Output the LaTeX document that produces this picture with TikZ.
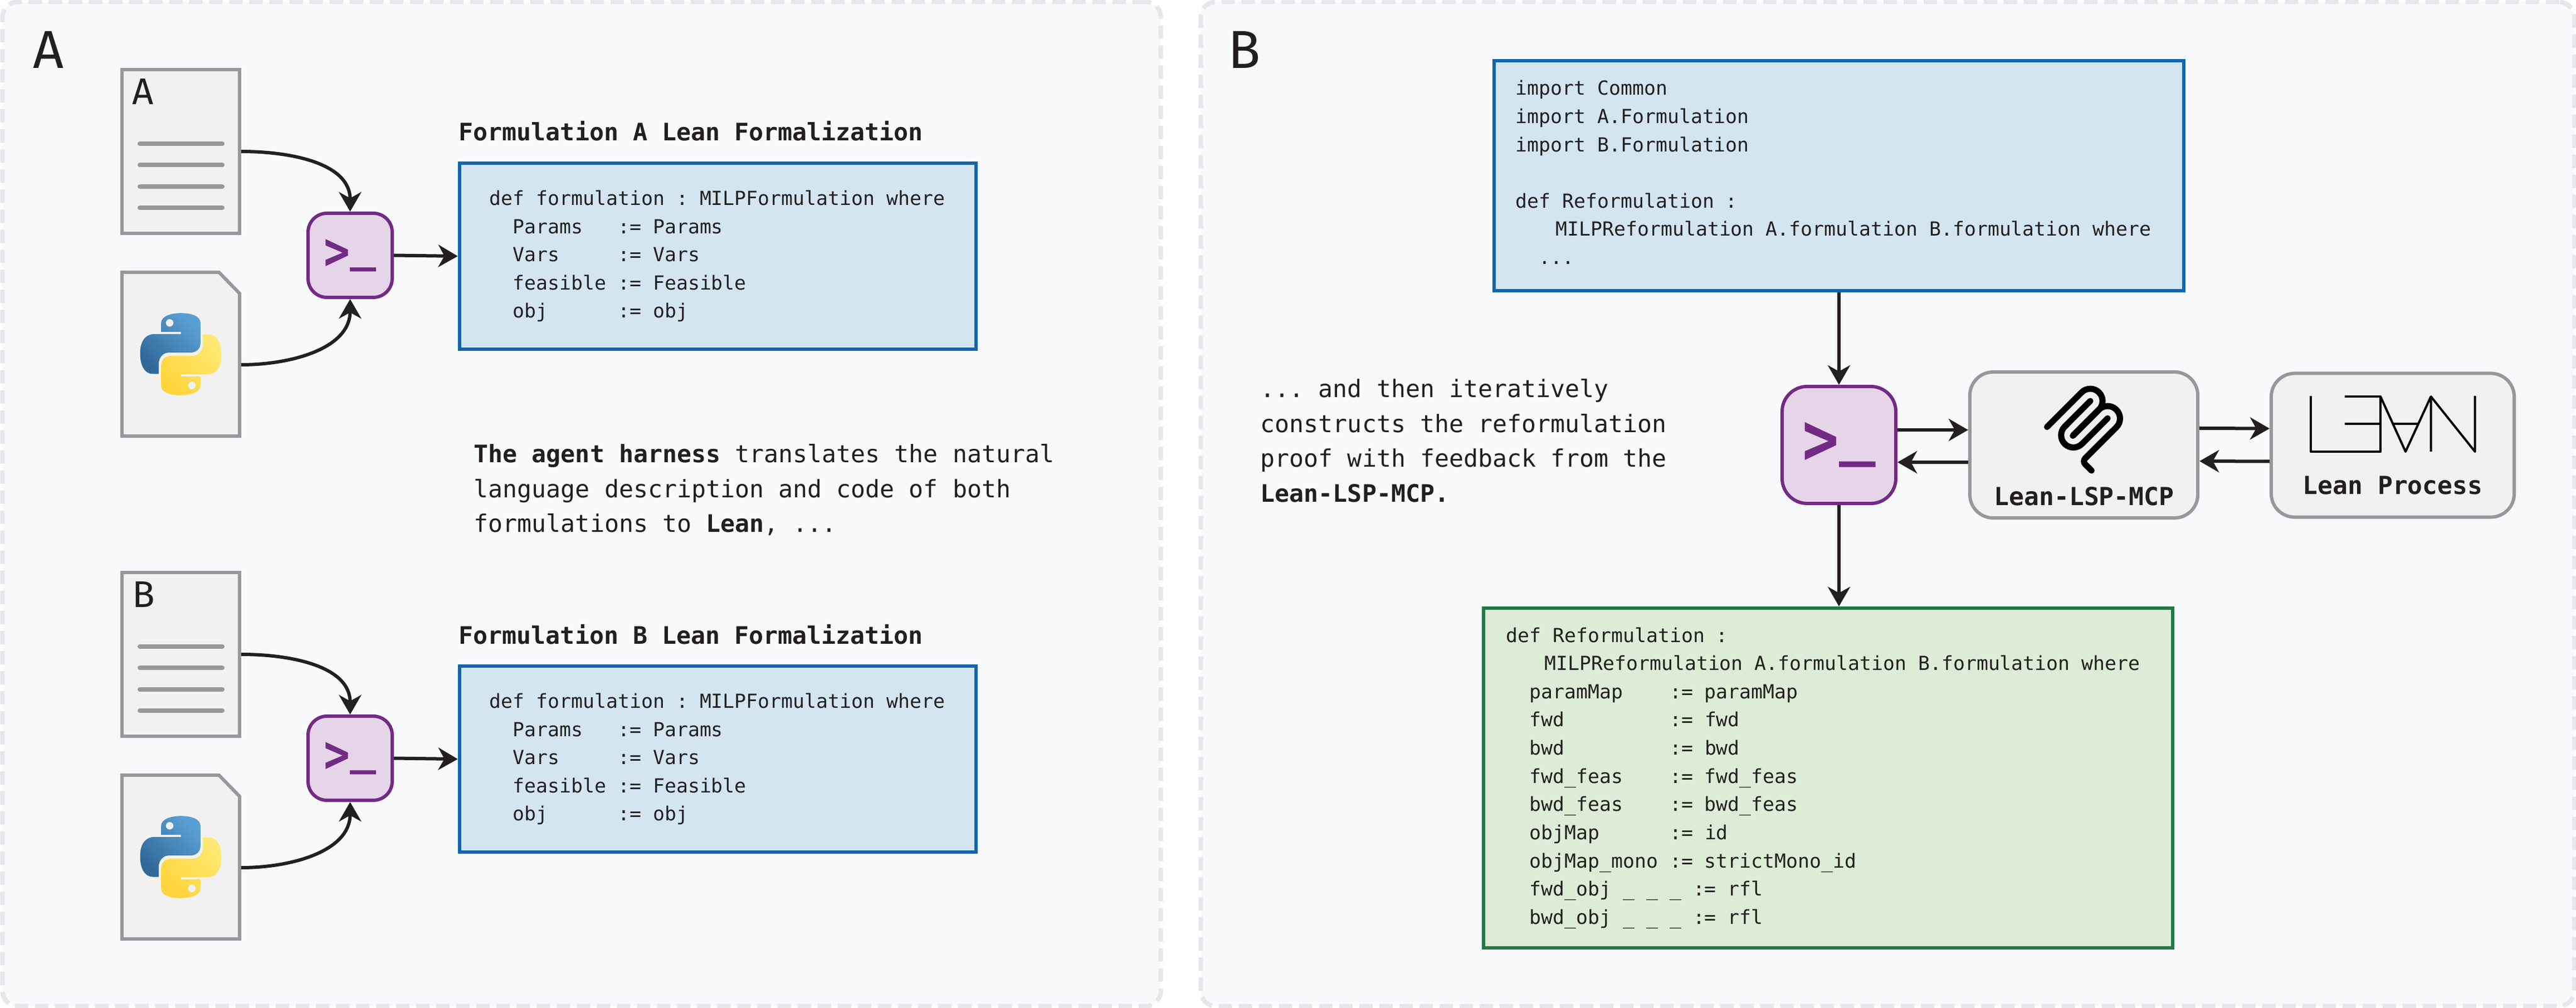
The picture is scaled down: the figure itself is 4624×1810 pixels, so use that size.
\documentclass[tikz,border=0pt]{standalone}
\usepackage{fontspec}
\setmonofont{DejaVu Sans Mono}
\setsansfont{Fira Sans}
\usepackage{xcolor}
\usepackage{tikz}
\usetikzlibrary{arrows.meta, calc}

\definecolor{ink}{HTML}{231F20}
\definecolor{panelbg}{HTML}{F8F9FB}
\definecolor{paneledge}{HTML}{E5E7EA}
\definecolor{docbg}{HTML}{F1F1F1}
\definecolor{docedge}{HTML}{97989B}
\definecolor{termbg}{HTML}{E6D5E8}
\definecolor{termedge}{HTML}{732A85}
\definecolor{codebg}{HTML}{D2E5F1}
\definecolor{codeedge}{HTML}{1166AE}
\definecolor{proofbg}{HTML}{DCECD6}
\definecolor{proofedge}{HTML}{1E7B43}
\definecolor{pyblueA}{HTML}{5A9FD4}
\definecolor{pyblueB}{HTML}{306998}
\definecolor{pyyellowA}{HTML}{FFE873}
\definecolor{pyyellowB}{HTML}{FFD43B}

\newcommand{\termprompt}{\raisebox{0.02em}{\scalebox{1}[1.2]{>}}\raisebox{0.2em}{\_}}

\tikzset{
    pylogo/.pic={
        \shade[left color=pyblueA, right color=pyblueB, shading angle=-45]
            (-35.3,-40.2) -- (0,-40.2) -- (0,-36.2) -- (-47,-36.2)
            .. controls (-63,-36.2) and (-73,-24) .. (-73,-1.2)
            .. controls (-73,20) and (-65,35.5) .. (-50,35.5)
            -- (-39.7,35.5) -- (-39.7,18.8)
            .. controls (-39.7,6) and (-32,-2.8) .. (-21.3,-2.8)
            -- (17,-2.8)
            .. controls (28,-2.8) and (35.3,-10) .. (35.3,-19.5)
            -- (35.3,-56.2)
            .. controls (35.3,-68) and (20,-73.8) .. (0.3,-73.8)
            .. controls (-18,-73.8) and (-35.3,-68) .. (-35.3,-56.2) -- cycle;
        \fill[docbg] (-20,-56.2) circle[radius=6.7];
        \begin{scope}[rotate=180]
        \shade[left color=pyyellowA, right color=pyyellowB, shading angle=-45]
            (-35.3,-40.2) -- (0,-40.2) -- (0,-36.2) -- (-47,-36.2)
            .. controls (-63,-36.2) and (-73,-24) .. (-73,-1.2)
            .. controls (-73,20) and (-65,35.5) .. (-50,35.5)
            -- (-39.7,35.5) -- (-39.7,18.8)
            .. controls (-39.7,6) and (-32,-2.8) .. (-21.3,-2.8)
            -- (17,-2.8)
            .. controls (28,-2.8) and (35.3,-10) .. (35.3,-19.5)
            -- (35.3,-56.2)
            .. controls (35.3,-68) and (20,-73.8) .. (0.3,-73.8)
            .. controls (-18,-73.8) and (-35.3,-68) .. (-35.3,-56.2) -- cycle;
        \fill[docbg] (-20,-56.2) circle[radius=6.7];
        \end{scope}
    },
    mcplogo/.pic={
        \begin{scope}[scale=0.915, black, line width=0.11cm, line cap=round]
        \draw (18,84.85) -- (85.88,16.97)
            .. controls (95.25,7.6) and (110.45,7.6) .. (119.82,16.97)
            .. controls (129.2,26.34) and (129.2,41.54) .. (119.82,50.91)
            -- (68.56,102.18);
        \draw (69.27,101.47) -- (119.82,50.91)
            .. controls (129.2,41.54) and (144.39,41.54) .. (153.77,50.91)
            -- (154.12,51.27)
            .. controls (163.49,60.64) and (163.49,75.83) .. (154.12,85.21)
            -- (92.72,146.6)
            .. controls (89.6,149.72) and (89.6,154.79) .. (92.72,157.91)
            -- (105.33,170.52);
        \draw (102.85,33.94) -- (52.65,84.15)
            .. controls (43.28,93.52) and (43.28,108.71) .. (52.65,118.09)
            .. controls (62.02,127.46) and (77.22,127.46) .. (86.59,118.09)
            -- (136.79,67.88);
        \end{scope}
    },
    leanlogo/.pic={
        \draw[black, line width=0.04cm, line join=round]
            (0,0) -- (0,100) -- (125,100) -- (125,1) -- (61,1);
        \draw[black, line width=0.04cm] (61,50) -- (125,50);
        \draw[black, line width=0.04cm, line join=round]
            (125,1) -- (170,100) -- (215.5,1) -- (215.5,100);
        \draw[black, line width=0.04cm] (148,50) -- (192.6,50);
        \draw[black, line width=0.04cm, line join=round]
            (215.5,1) -- (294.6,100) -- (294.6,0);
    }
}

\begin{document}
\begin{tikzpicture}[
    x=0.01cm,
    y=-0.01cm,
    panel/.style={rectangle, draw=paneledge, fill=panelbg, line width=0.08cm, rounded corners=0.27cm, dash pattern=on 0.24cm off 0.12cm},
    panellabel/.style={anchor=base west, inner sep=0pt, text=ink, font=\sffamily\fontsize{27.3}{30}\selectfont},
    doc/.style={rectangle, draw=docedge, fill=docbg, line width=0.06cm, minimum width=2.11cm, minimum height=2.94cm},
    codedoc/.style={rectangle, minimum width=2.17cm, minimum height=3.00cm, outer sep=0pt},
    docline/.style={draw=docedge, line width=0.08cm, line cap=round},
    doclabel/.style={anchor=base west, inner sep=0pt, text=ink, font=\sffamily\fontsize{19}{22}\selectfont},
    terminal/.style={rectangle, draw=termedge, fill=termbg, text=termedge, line width=0.06cm, minimum width=1.51cm, minimum height=1.51cm, rounded corners=0.34cm, inner sep=0pt, font=\ttfamily\bfseries\fontsize{22.2}{26}\selectfont},
    bigterminal/.style={terminal, minimum width=2.04cm, minimum height=2.10cm, rounded corners=0.45cm, font=\ttfamily\bfseries\fontsize{31}{36}\selectfont},
    codebox/.style={rectangle, draw=codeedge, fill=codebg, text=ink, line width=0.06cm, align=left, inner ysep=0pt, font=\ttfamily\fontsize{9.9}{14.4}\selectfont, execute at begin node={\spaceskip=\fontdimen2\font\xspaceskip=\fontdimen2\font}},
    proofbox/.style={codebox, draw=proofedge, fill=proofbg},
    boxtitle/.style={anchor=base west, inner sep=0pt, text=ink, font=\ttfamily\bfseries\fontsize{12.3}{15}\selectfont},
    prose/.style={anchor=north west, inner sep=0pt, align=left, text=ink, font=\ttfamily\fontsize{12.3}{17.8}\selectfont},
    tool/.style={rectangle, draw=docedge, fill=docbg, line width=0.06cm, rounded corners=0.42cm},
    toollabel/.style={anchor=base, inner sep=0pt, text=ink, font=\ttfamily\bfseries\fontsize{12.7}{15}\selectfont},
    flow/.style={draw=ink, line width=0.06cm, -{Stealth[length=0.35cm, width=0.4cm, inset=0.11cm]}}
]
    \useasboundingbox (0,0) rectangle (4624,1810);

    % --- 1. Panels ---
    \node (panelA) [panel, minimum width=20.78cm, minimum height=18.02cm] at (1044,905) {};
    \node (panelB) [panel, minimum width=24.64cm, minimum height=18.02cm] at (3388,905) {};
    \node (labelA) [panellabel] at (59,123) {A};
    \node (labelB) [panellabel] at (2204,123) {B};

    % --- 2. Formulation A ---
    \node (docA) [doc] at (324.5,272) {};
    \node (docAlabel) [doclabel] at ($(docA.north west)+(21,66)$) {A};
    \draw[docline] ($(docA.north west)+(35,136)$) -- ($(docA.north east)+(-34,136)$);
    \draw[docline] ($(docA.north west)+(35,174.5)$) -- ($(docA.north east)+(-34,174.5)$);
    \draw[docline] ($(docA.north west)+(35,213)$) -- ($(docA.north east)+(-34,213)$);
    \draw[docline] ($(docA.north west)+(35,251)$) -- ($(docA.north east)+(-34,251)$);
    \node (pyA) [codedoc] at (324.5,636) {};
    \draw[draw=docedge, fill=docbg, line width=0.06cm, line join=miter]
        ($(pyA.north west)+(3,3)$) -- ($(pyA.north east)+(-40,3)$) -- ($(pyA.north east)+(-3,41)$)
        -- ($(pyA.south east)+(-3,-3)$) -- ($(pyA.south west)+(3,-3)$) -- cycle;
    \pic at (pyA.center) {pylogo};
    \node (termA) [terminal] at (628.5,458.5) {\termprompt};
    \node (titleA) [boxtitle] at (823,253) {Formulation A Lean Formalization};
    \node (leanA) [codebox, text width=8.19cm, inner xsep=0.54cm, minimum height=3.34cm] at (1288.5,460)
        {def formulation : MILPFormulation where\\
         ~~Params~~~:= Params\\
         ~~Vars~~~~~:= Vars\\
         ~~feasible := Feasible\\
         ~~obj~~~~~~:= obj};
    \draw[flow] (docA.east) to[out=0, in=90] (termA.north);
    \draw[flow] ($(pyA.east)+(0,19)$) to[out=0, in=-90] (termA.south);
    \draw[flow] (termA.east) -- (leanA.west);

    % --- 3. Text between the rows ---
    \node (harness) [prose] at (850,797)
        {\textbf{The agent harness} translates the natural\\
         language description and code of both\\
         formulations to \textbf{Lean}, ...};

    % --- 4. Formulation B ---
    \node (docB) [doc] at (324.5,1175) {};
    \node (docBlabel) [doclabel] at ($(docB.north west)+(21,66)$) {B};
    \draw[docline] ($(docB.north west)+(35,136)$) -- ($(docB.north east)+(-34,136)$);
    \draw[docline] ($(docB.north west)+(35,174.5)$) -- ($(docB.north east)+(-34,174.5)$);
    \draw[docline] ($(docB.north west)+(35,213)$) -- ($(docB.north east)+(-34,213)$);
    \draw[docline] ($(docB.north west)+(35,251)$) -- ($(docB.north east)+(-34,251)$);
    \node (pyB) [codedoc] at (324.5,1539) {};
    \draw[draw=docedge, fill=docbg, line width=0.06cm, line join=miter]
        ($(pyB.north west)+(3,3)$) -- ($(pyB.north east)+(-40,3)$) -- ($(pyB.north east)+(-3,41)$)
        -- ($(pyB.south east)+(-3,-3)$) -- ($(pyB.south west)+(3,-3)$) -- cycle;
    \pic at (pyB.center) {pylogo};
    \node (termB) [terminal] at (628.5,1361.5) {\termprompt};
    \node (titleB) [boxtitle] at (823,1156) {Formulation B Lean Formalization};
    \node (leanB) [codebox, text width=8.19cm, inner xsep=0.54cm, minimum height=3.34cm] at (1288.5,1363)
        {def formulation : MILPFormulation where\\
         ~~Params~~~:= Params\\
         ~~Vars~~~~~:= Vars\\
         ~~feasible := Feasible\\
         ~~obj~~~~~~:= obj};
    \draw[flow] (docB.east) to[out=0, in=90] (termB.north);
    \draw[flow] ($(pyB.east)+(0,19)$) to[out=0, in=-90] (termB.south);
    \draw[flow] (termB.east) -- (leanB.west);

    % --- 5. Panel B: statement, agent, proof ---
    \node (stmt) [codebox, text width=11.6cm, inner xsep=0.39cm, minimum height=4.13cm] at (3301,315.5)
        {import Common\\
         import A.Formulation\\
         import B.Formulation\\
         ~\\
         def Reformulation :\\
         ~~~\hspace*{0.09cm}MILPReformulation A.formulation B.formulation where\\
         ~~...\rule[-0.12cm]{0pt}{0.12cm}};
    \node (agent) [bigterminal] at (3301,799) {\termprompt};
    \node (proof) [proofbox, text width=11.55cm, inner xsep=0.41cm, minimum height=6.10cm] at (3281.5,1397)
        {def Reformulation :\\
         ~~~\hspace*{0.06cm}MILPReformulation A.formulation B.formulation where\\
         ~~paramMap~~~~:= paramMap\\
         ~~fwd~~~~~~~~~:= fwd\\
         ~~bwd~~~~~~~~~:= bwd\\
         ~~fwd\_feas~~~~:= fwd\_feas\\
         ~~bwd\_feas~~~~:= bwd\_feas\\
         ~~objMap~~~~~~:= id\\
         ~~objMap\_mono := strictMono\_id\\
         ~~fwd\_obj \_ \_ \_ := rfl\\
         ~~bwd\_obj \_ \_ \_ := rfl};
    \draw[flow] (stmt.south) -- (agent.north);
    \draw[flow] (agent.south) -- (agent.south |- proof.north);

    % --- 6. Tools ---
    \node (lsp) [tool, minimum width=4.09cm, minimum height=2.62cm] at (3740.5,799) {};
    \node (lspname) [toollabel] at (3741,908) {Lean-LSP-MCP};
    \pic at (3658,689) {mcplogo};
    \node (process) [tool, minimum width=4.36cm, minimum height=2.58cm] at (4295,799.5) {};
    \node (processname) [toollabel] at (4295,888) {Lean Process};
    \pic at (4148,711) {leanlogo};
    \draw[flow] ($(agent.east)+(0,-27)$) -- ($(lsp.west)+(0,-27)$);
    \draw[flow] ($(lsp.west)+(0,31)$) -- ($(agent.east)+(0,31)$);
    \draw[flow] ($(lsp.east)+(0,-30)$) -- ($(process.west)+(0,-30)$);
    \draw[flow] ($(process.west)+(0,29)$) -- ($(lsp.east)+(0,29)$);

    % --- 7. Text beside the agent ---
    \node (feedback) [prose] at (2262,680)
        {... and then iteratively\\
         constructs the reformulation\\
         proof with feedback from the\\
         \textbf{Lean-LSP-MCP.}};
\end{tikzpicture}
\end{document}
